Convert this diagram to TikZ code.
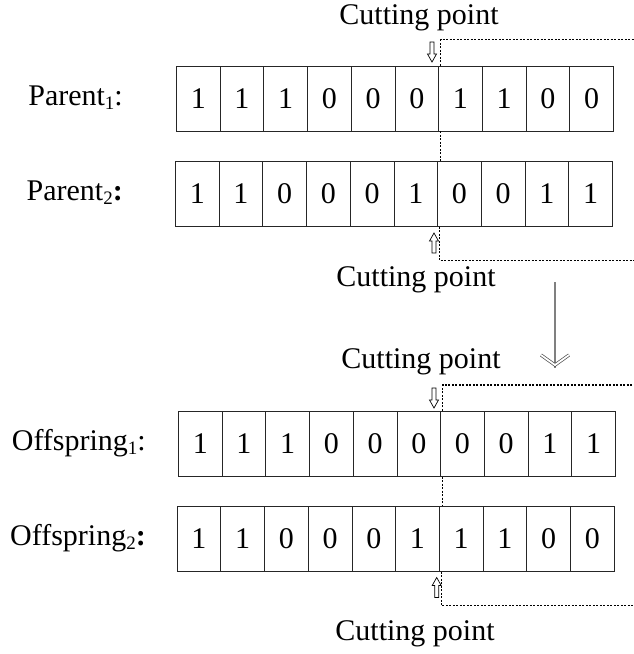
\documentclass[tikz,border=0pt]{standalone}
\usepackage{fontspec}
\setmainfont{Liberation Serif}
\newcommand\subidx[1]{\raisebox{-0.3ex}{\fontsize{19}{19}\selectfont #1}}
\begin{document}
\begin{tikzpicture}[x=1pt,y=-1pt,
  cell/.style={draw=black!85,line width=0.8pt,minimum width=43.7pt,minimum height=65pt,inner sep=0pt,anchor=north west,font=\fontsize{30}{34}\selectfont},
  lbl/.style={inner sep=0pt,font=\fontsize{30}{34}\selectfont},
  dotline/.style={line width=1.1pt,dash pattern=on 2pt off 1.5pt},
  hollowdown/.pic={\draw[line width=0.7pt,fill=white] (-2,0) -- (-2,12) -- (-4.5,12) -- (0,20) -- (4.5,12) -- (2,12) -- (2,0) -- cycle;},
  hollowup/.pic={\draw[line width=0.7pt,fill=white] (-2,0) -- (-2,-12) -- (-4.5,-12) -- (0,-20) -- (4.5,-12) -- (2,-12) -- (2,0) -- cycle;}]
\useasboundingbox (0,0) rectangle (634,654);
% rows
\foreach \v [count=\i] in {1,1,1,0,0,0,1,1,0,0}
  \node[cell] (pa\i) at ({176+43.7*(\i-1)},65.5) {\v};
\foreach \v [count=\i] in {1,1,0,0,0,1,0,0,1,1}
  \node[cell] (pb\i) at ({175+43.7*(\i-1)},161) {\v};
\foreach \v [count=\i] in {1,1,1,0,0,0,0,0,1,1}
  \node[cell] (oa\i) at ({178+43.7*(\i-1)},410.7) {\v};
\foreach \v [count=\i] in {1,1,0,0,0,1,1,1,0,0}
  \node[cell] (ob\i) at ({176.7+43.7*(\i-1)},506) {\v};
% row labels
\node[lbl,anchor=east] (lpa) at (123,98) {Parent\subidx{1}:};
\node[lbl,anchor=east] (lpb) at (123,193) {Parent\subidx{2}\textbf{:}};
\node[lbl,anchor=east] (loa) at (146,443) {Offspring\subidx{1}:};
\node[lbl,anchor=east] (lob) at (146,538) {Offspring\subidx{2}\textbf{:}};
% cutting point labels
\node[lbl] (cp1) at (419,18) {Cutting point};
\node[lbl] (cp2) at (416,280) {Cutting point};
\node[lbl] (cp3) at (421,362) {Cutting point};
\node[lbl] (cp4) at (415,634) {Cutting point};
% dotted cut lines
\coordinate (e1) at (634,39.5);
\coordinate (e2) at (634,260.7);
\coordinate (e3) at (634,385);
\coordinate (e4) at (634,605.7);
\draw[dotline] ([xshift=1.5pt]pa6.north east) |- (e1);
\draw[dotline] ([xshift=1.5pt]pa6.south east) -- ([xshift=1.5pt]pa6.south east |- pb6.north);
\draw[dotline] ([xshift=1.5pt]pb6.south east) |- (e2);
\draw[dotline] ([xshift=1.5pt]oa6.north east) |- (e3);
\draw[dotline] ([xshift=1.5pt]oa6.south east) -- ([xshift=1.5pt]oa6.south east |- ob6.north);
\draw[dotline] ([xshift=1.5pt]ob6.south east) |- (e4);
% small hollow arrows
\pic at (432,42) {hollowdown};
\pic at (434,253) {hollowup};
\pic at (434,388) {hollowdown};
\pic at (436.7,597.5) {hollowup};
% big arrow
\coordinate (bt) at (555,282);
\coordinate (bb) at (555,365);
\draw[black!50,line width=2.8pt] (bt) -- ([yshift=-3pt]bb);
\draw[black!70,double=white,double distance=1.8pt,line width=0.7pt,line join=miter] (541,355) -- (bb) -- (569,355);
\end{tikzpicture}
\end{document}
